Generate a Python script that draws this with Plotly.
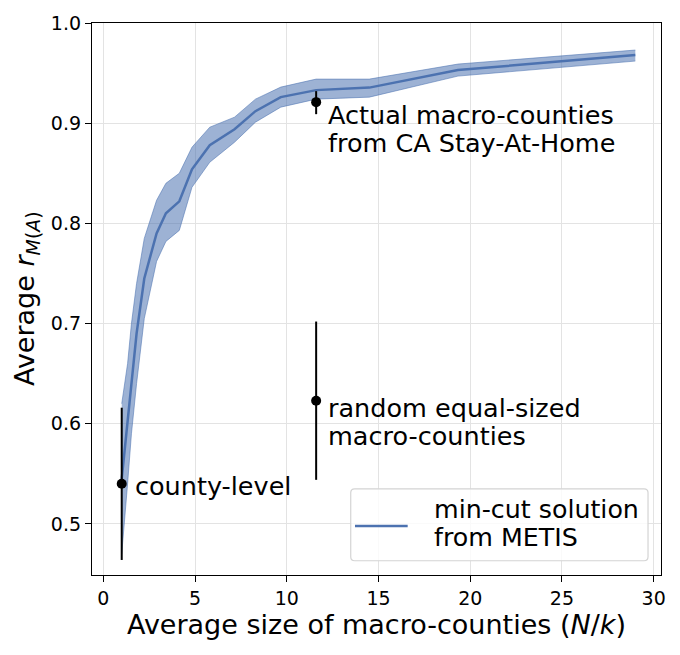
import plotly.graph_objects as go

# Data
x_vals = [1.0, 1.16, 1.32, 1.53, 1.81, 2.23, 2.9, 3.41, 4.14, 4.83, 5.8, 7.15, 8.29, 9.67, 11.6, 14.5, 19.33, 29.0]
y_mean = [0.545, 0.575, 0.60, 0.645, 0.69, 0.745, 0.79, 0.81, 0.822, 0.854, 0.878, 0.894, 0.912, 0.926, 0.933, 0.9355, 0.953, 0.968]
y_low = [0.470, 0.510, 0.540, 0.590, 0.640, 0.705, 0.762, 0.782, 0.793, 0.836, 0.861, 0.881, 0.901, 0.916, 0.924, 0.926, 0.947, 0.962]
y_high = [0.620, 0.640, 0.660, 0.700, 0.740, 0.785, 0.823, 0.840, 0.850, 0.876, 0.896, 0.906, 0.924, 0.936, 0.944, 0.944, 0.959, 0.973]

pt_x = [1.0, 11.6, 11.6]
pt_y = [0.540, 0.623, 0.921]
pt_plus = [0.076, 0.079, 0.011]
pt_minus = [0.076, 0.079, 0.012]

x_ticks = [0, 5, 10, 15, 20, 25, 30]
y_ticks = [0.5, 0.6, 0.7, 0.8, 0.9, 1.0]

legend_label = ["min-cut solution", "from METIS"]

BLUE = "#4c72b0"
FONT = "DejaVu Sans"

fig = go.Figure()
fig.add_trace(go.Scatter(x=x_vals, y=y_low, mode="lines",
                         line=dict(color="rgba(76,114,176,0.55)", width=1),
                         showlegend=False, hoverinfo="skip"))
fig.add_trace(go.Scatter(x=x_vals, y=y_high, mode="lines", fill="tonexty",
                         fillcolor="rgba(76,114,176,0.55)",
                         line=dict(color="rgba(76,114,176,0.55)", width=1),
                         showlegend=False, hoverinfo="skip"))
fig.add_trace(go.Scatter(x=x_vals, y=y_mean, mode="lines",
                         line=dict(color=BLUE, width=2.5),
                         name=" ".join(legend_label), showlegend=False))
fig.add_trace(go.Scatter(x=pt_x, y=pt_y, mode="markers",
                         marker=dict(color="black", size=10),
                         error_y=dict(type="data", symmetric=False, array=pt_plus,
                                      arrayminus=pt_minus, color="black",
                                      thickness=2, width=0),
                         showlegend=False))

ann_font = dict(family=FONT, size=25.5, color="black")
labels = [
    (1.62, 0.538, "county-level"),
    (12.15, 0.908, "Actual macro-counties"),
    (12.15, 0.880, "from CA Stay-At-Home"),
    (12.15, 0.616, "random equal-sized"),
    (12.15, 0.588, "macro-counties"),
]
for lx, ly, txt in labels:
    fig.add_annotation(x=lx, y=ly, text=txt, showarrow=False, xanchor="left",
                       yanchor="middle", font=ann_font)

fig.add_annotation(xref="paper", yref="paper", x=0.5, y=0, yshift=-49,
                   text="Average size of macro-counties (<i>N</i>/<i>k</i>)",
                   showarrow=False, xanchor="center", yanchor="middle",
                   font=dict(family=FONT, size=27, color="black"))
fig.add_annotation(xref="paper", yref="paper", x=0, y=0.5, xshift=-66,
                   text="Average <i>r</i><sub><i>M</i>(<i>A</i>)</sub>",
                   textangle=-90, showarrow=False, xanchor="center", yanchor="middle",
                   font=dict(family=FONT, size=27, color="black"))

# Manual legend (rounded box, line sample, two text lines)
W, H = 569.0, 555.0
x0, x1, y0, y1 = 0.4547, 0.9772, 0.0258, 0.1562
rx, ry = 4 / W, 4 / H
path = (f"M {x0+rx},{y0} L {x1-rx},{y0} Q {x1},{y0} {x1},{y0+ry} "
        f"L {x1},{y1-ry} Q {x1},{y1} {x1-rx},{y1} L {x0+rx},{y1} "
        f"Q {x0},{y1} {x0},{y1-ry} L {x0},{y0+ry} Q {x0},{y0} {x0+rx},{y0} Z")
fig.add_shape(type="path", path=path, xref="paper", yref="paper",
              line=dict(color="#d4d4d4", width=1.2),
              fillcolor="rgba(255,255,255,0.8)", layer="above")
fig.add_shape(type="line", xref="paper", yref="paper", x0=0.4622, x1=0.5548,
              y0=0.0888, y1=0.0888, line=dict(color=BLUE, width=2.5), layer="above")
for ly, txt in zip([0.1195, 0.0685], legend_label):
    fig.add_annotation(xref="paper", yref="paper", x=0.5975, y=ly, text=txt,
                       showarrow=False, xanchor="left", yanchor="middle",
                       font=dict(family=FONT, size=25.3, color="black"))

axis_common = dict(showline=True, linecolor="black", linewidth=1.3, mirror=True,
                   ticks="outside", ticklen=6, tickwidth=1.3, tickcolor="black",
                   showgrid=True, gridcolor="#e3e3e3", gridwidth=1, zeroline=False,
                   tickfont=dict(family=FONT, size=19, color="black"))

fig.update_xaxes(range=[-0.62, 30.4], tickvals=x_ticks, ticktext=[str(v) for v in x_ticks],
                 **axis_common)
fig.update_yaxes(range=[0.449, 1.0], tickvals=y_ticks, ticktext=[f"{v:.1f}" for v in y_ticks],
                 **axis_common)

fig.update_layout(
    width=680, height=655,
    margin=dict(l=92, r=19, t=20, b=80),
    plot_bgcolor="white", paper_bgcolor="white",
    font=dict(family=FONT),
    showlegend=False,
)

fig.write_html("out.html", config={"displayModeBar": False},
               post_script="document.body.style.margin='0';document.body.style.padding='0';")
